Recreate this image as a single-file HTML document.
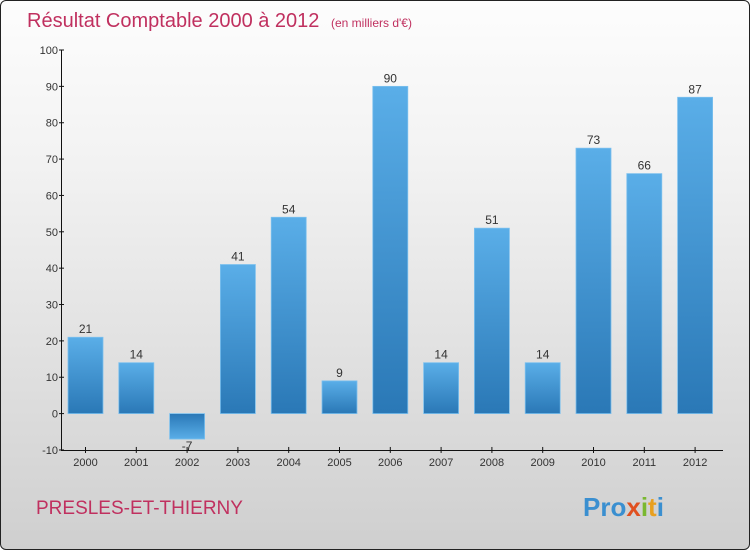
<!DOCTYPE html>
<html><head><meta charset="utf-8"><style>
body{margin:0;}
#wrap{position:relative;width:748px;height:548px;border:1px solid #222;border-radius:6px;overflow:hidden;background:linear-gradient(#fdfdfd,#f2f2f2 30%,#cfcfcf);font-family:"Liberation Sans",sans-serif;}
</style></head><body>
<div id="wrap">
<svg width="748" height="548" id="svg">
<defs>
<linearGradient id="gp" x1="0" y1="0" x2="0" y2="1"><stop offset="0" stop-color="#5aaee8"/><stop offset="1" stop-color="#2a78b6"/></linearGradient>
<linearGradient id="gn" x1="0" y1="0" x2="0" y2="1"><stop offset="0" stop-color="#2a78b6"/><stop offset="1" stop-color="#5aaee8"/></linearGradient>
</defs>
<text x="26" y="26" font-size="20" fill="#c0305f">Résultat Comptable 2000 à 2012 <tspan font-size="12" dx="6">(en milliers d'€)</tspan></text>
<text x="35" y="513" font-size="19" fill="#c0305f">PRESLES-ET-THIERNY</text>
<text x="582" y="515" font-size="26" font-weight="bold" fill="#e8a020"><tspan fill="#3a8fd0">Pro</tspan><tspan fill="#e05020">x</tspan><tspan fill="#7ab830">i</tspan><tspan fill="#e8a020">t</tspan><tspan fill="#3a8fd0">i</tspan></text>
<g id="g"></g>
</svg>
</div>
<script>
const categories=["2000","2001","2002","2003","2004","2005","2006","2007","2008","2009","2010","2011","2012"];
const values=[21,14,-7,41,54,9,90,14,51,14,73,66,87];
const yTicks=[-10,0,10,20,30,40,50,60,70,80,90,100];
const NS="http://www.w3.org/2000/svg";
const g=document.getElementById('g');
function y(v){return 412.6-v*3.636;}
function x(i){return 84.5+i*50.8;}
function mk(t,a){const e=document.createElementNS(NS,t);for(const k in a)e.setAttribute(k,a[k]);g.appendChild(e);return e;}
let e=mk('line',{x1:60.5,y1:y(100),x2:60.5,y2:y(-10),stroke:'#111'});


e=mk('line',{x1:60,y1:y(-10)+0.5,x2:722,y2:y(-10)+0.5,stroke:'#111'});


yTicks.forEach(t=>{
 mk('line',{x1:58,x2:63,y1:y(t),y2:y(t),stroke:'#111'});
 const tx=mk('text',{x:57,y:y(t)+4,'font-size':11,'text-anchor':'end',fill:'#333'});
 tx.textContent=t;
 
 
});
categories.forEach((c,i)=>{
 const v=values[i];
 mk('line',{x1:x(i),x2:x(i),y1:y(-10)-3,y2:y(-10)+3,stroke:'#111'});
 const r=mk('rect',{x:x(i)-17.5,width:35,y:Math.min(y(v),y(0)),height:Math.abs(y(v)-y(0)),fill:v<0?'url(#gn)':'url(#gp)',stroke:'#7cc0ee','stroke-width':0.8});
 
 
 const l=mk('text',{x:x(i),y:v<0?y(v)+11:y(v)-4,'font-size':12,'text-anchor':'middle',fill:'#333'});
 l.textContent=v;
 
 
 const xt=mk('text',{x:x(i),y:y(-10)+16,'font-size':11,'text-anchor':'middle',fill:'#333'});
 xt.textContent=c;
 
 
});
</script>
</body></html>
